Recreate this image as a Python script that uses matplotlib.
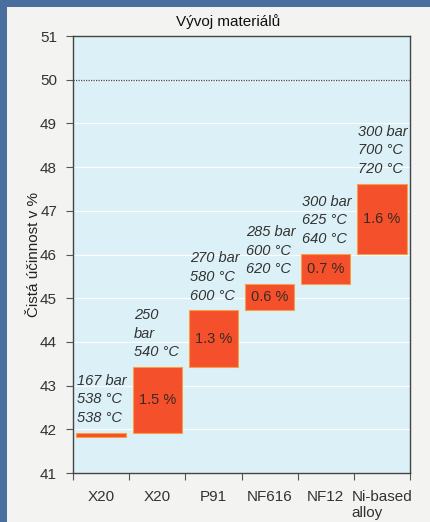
import numpy as np
import matplotlib.pyplot as plt
from matplotlib.patches import Rectangle

# materiály a přírůstky účinnosti
materialy = ["X20", "X20", "P91", "NF616", "NF12", "Ni-based\nalloy"]
zaklad = 41.82
prvni = 41.92
prirustky = [1.5, 1.3, 0.6, 0.7, 1.6]
parametry = ["167 bar\n538 °C\n538 °C",
             "250\nbar\n540 °C",
             "270 bar\n580 °C\n600 °C",
             "285 bar\n600 °C\n620 °C",
             "300 bar\n625 °C\n640 °C",
             "300 bar\n700 °C\n720 °C"]
hranice = 50.0

plt.rcParams['font.family'] = ['Liberation Sans', 'DejaVu Sans']

fig = plt.figure(figsize=(4.30, 5.22), dpi=100)
fig.patch.set_facecolor('#4a6e9e')
fig.add_artist(Rectangle((7/430, 0), 1 - 7/430, 1 - 7/522,
                         transform=fig.transFigure, facecolor='#f3f3f1',
                         edgecolor='none', zorder=0))

ax = fig.add_axes([73/430, 1 - 473/522, 337/430, 437/522])
ax.set_facecolor('#dcf1f7')

# spodky a vrchy sloupců
dolni = [zaklad] + list(prvni + np.concatenate(([0], np.cumsum(prirustky)[:-1])))
horni = [prvni] + list(prvni + np.cumsum(prirustky))

for i in range(len(materialy)):
    ax.bar(i + 0.5, horni[i] - dolni[i], bottom=dolni[i], width=0.88,
           color='#f4502c', edgecolor='#f6a048', linewidth=0.8, zorder=3)
    ax.text(i + 0.08, horni[i] + 0.18, parametry[i], ha='left', va='bottom',
            fontsize=10.5, style='italic', color='#333333', linespacing=1.42,
            zorder=4)
    if i > 0:
        ax.text(i + 0.5, (dolni[i] + horni[i]) / 2, f"{prirustky[i-1]} %",
                ha='center', va='center', fontsize=10.5, color='#3a2a22',
                zorder=4)

ax.axhline(hranice, color='#444444', linestyle=(0, (1, 1)), lw=0.9, zorder=2)

ax.set_xlim(0, 6)
ax.set_ylim(41, 51)
ax.set_yticks(np.arange(41, 52))
ax.yaxis.grid(True, color='white', lw=0.8, zorder=1)
ax.set_axisbelow(True)

ax.set_xticks(np.arange(0, 7))
ax.set_xticklabels([])
ax.set_xticks(np.arange(6) + 0.5, minor=True)
ax.set_xticklabels(materialy, minor=True, fontsize=11, color='#333333',
                   multialignment='left')
ax.tick_params(axis='x', which='minor', length=0, pad=12)
ax.tick_params(axis='x', which='major', length=5, direction='out',
               color='#555555')
ax.tick_params(axis='y', length=5, direction='out', color='#555555',
               labelsize=11, labelcolor='#333333', pad=6.5)

for s in ax.spines.values():
    s.set_color('#444444')
    s.set_linewidth(1.0)

ax.set_ylabel("Čistá účinnost v %", fontsize=11, color='#222222',
              labelpad=-1)
fig.text(228/430, 1 - 22/522, "Vývoj materiálů", ha='center', va='center',
         fontsize=11, color='#111111')

fig.savefig("out.png", dpi=100, facecolor=fig.get_facecolor())
